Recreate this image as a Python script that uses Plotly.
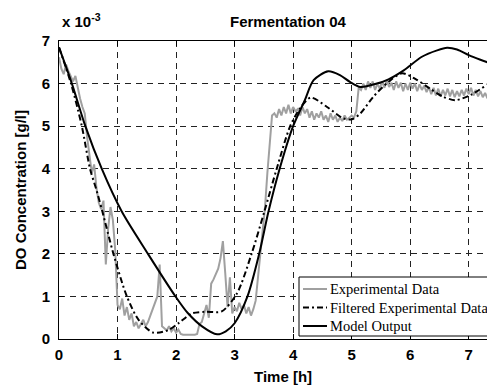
import numpy as np
import plotly.graph_objects as go

# Experimental data (sampled every 0.04 h)
t_exp_start, t_exp_step = 0.0, 0.04
exp_vals = [
    6.62, 6.35, 6.22, 6.45, 6.30, 6.15, 6.05, 6.18, 5.90, 5.65,
    5.45, 5.30, 4.75, 4.25, 3.90, 4.10, 3.55, 3.20, 3.05, 3.25,
    1.75, 2.60, 3.10, 2.80, 2.10, 0.80, 0.70, 0.95, 0.55, 0.75,
    0.45, 0.60, 0.30, 0.40, 0.25, 0.35, 0.45, 0.30, 0.40, 0.55,
    0.70, 0.85, 1.00, 1.75, 0.30, 0.25, 0.20, 0.30, 0.18, 0.25,
    0.15, 0.22, 0.12, 0.10, 0.10, 0.10, 0.10, 0.10, 0.10, 0.12,
    0.35, 0.40, 0.60, 0.80, 0.50, 1.30, 1.40, 1.55, 1.65, 1.90,
    2.30, 1.55, 0.75, 1.45, 0.60, 0.75, 0.65, 0.85, 0.70, 0.80,
    0.60, 0.75, 0.55, 0.70, 0.90, 1.45, 2.00, 2.50, 3.10, 3.90,
    4.60, 5.25, 5.30, 5.20, 5.40, 5.25, 5.45, 5.30, 5.50, 5.30,
    5.45, 5.35, 5.40, 5.25, 5.45, 5.30, 5.40, 5.20, 5.35, 5.15,
    5.30, 5.20, 5.35, 5.15, 5.25, 5.10, 5.30, 5.15, 5.25, 5.10,
    5.20, 5.12, 5.25, 5.15, 5.20, 5.25, 5.20, 5.35, 5.90, 5.85,
    6.00, 5.85, 6.05, 5.90, 6.05, 5.85, 6.00, 5.88, 6.05, 5.90,
    6.08, 5.92, 6.02, 5.85, 6.05, 5.90, 6.02, 5.82, 6.00, 5.85,
    6.02, 5.88, 6.00, 5.82, 5.98, 5.85, 5.95, 5.80, 5.92, 5.75,
    5.90, 5.72, 5.88, 5.70, 5.85, 5.72, 5.88, 5.70, 5.85, 5.68,
    5.82, 5.70, 5.85, 5.72, 5.88, 5.75, 5.90, 5.72, 5.85, 5.70,
    5.82, 5.68, 5.78, 5.65,
]
t_exp = [round(t_exp_start + i * t_exp_step, 2) for i in range(len(exp_vals))]

# Filtered experimental data
t_filt = [0.0, 0.205, 0.39, 0.53, 0.64, 0.74, 0.93, 1.16, 1.36, 1.61, 1.87, 2.05,
          2.27, 2.5, 2.78, 3.04, 3.29, 3.51, 3.72, 3.95, 4.12, 4.3, 4.58, 4.86,
          5.0, 5.15, 5.37, 5.63, 5.86, 6.1, 6.34, 6.55, 6.77, 7.03, 7.32]
v_filt = [6.85, 6.0, 5.0, 4.0, 3.5, 3.0, 2.0, 1.0, 0.45, 0.15, 0.21, 0.38,
          0.6, 0.64, 0.65, 1.07, 2.0, 3.0, 4.0, 5.0, 5.42, 5.67, 5.45, 5.18,
          5.16, 5.3, 5.69, 6.04, 6.24, 6.1, 5.88, 5.7, 5.61, 5.73, 5.98]

# Model output
t_mod = [0.0, 0.22, 0.45, 0.73, 1.07, 1.52, 1.99, 2.2, 2.45, 2.7, 2.85, 3.0,
         3.22, 3.42, 3.58, 3.77, 4.0, 4.2, 4.35, 4.6, 4.8, 4.97, 5.15, 5.43,
         5.63, 5.89, 6.2, 6.46, 6.63, 6.8, 7.0, 7.2, 7.32]
v_mod = [6.85, 6.0, 5.0, 4.0, 3.0, 2.0, 1.0, 0.61, 0.29, 0.11, 0.18, 0.37,
         1.0, 2.0, 3.0, 4.0, 5.0, 5.61, 6.08, 6.29, 6.2, 6.04, 5.92, 6.0,
         6.1, 6.31, 6.63, 6.78, 6.84, 6.8, 6.67, 6.56, 6.5]

series_names = ["Experimental Data", "Filtered Experimental Data", "Model Output"]
x_ticks = [0, 1, 2, 3, 4, 5, 6, 7]
y_ticks = [0, 1, 2, 3, 4, 5, 6, 7]

W, H = 487, 387
ML, MR, MT, MB = 59, 0, 41, 48
pw, ph = W - ML - MR, H - MT - MB

def px_x(p):
    return (p - ML) / pw

def px_y(p):
    return (H - MB - p) / ph

styles = [
    dict(color="#a0a0a0", width=2),
    dict(color="black", width=2, dash="6px,3px,2px,3px"),
    dict(color="black", width=2),
]

fig = go.Figure()
fig.add_trace(go.Scatter(x=t_exp, y=exp_vals, mode="lines", name=series_names[0],
                         line=styles[0]))
fig.add_trace(go.Scatter(x=t_filt, y=v_filt, mode="lines", name=series_names[1],
                         line=dict(**styles[1], shape="spline", smoothing=0.8)))
fig.add_trace(go.Scatter(x=t_mod, y=v_mod, mode="lines", name=series_names[2],
                         line=dict(**styles[2], shape="spline", smoothing=0.8)))

bold = dict(family="Liberation Sans, Arial", size=15, color="black", weight="bold")

fig.update_xaxes(range=[0, (W - ML - MR) / 58.53], tickvals=x_ticks,
                 ticktext=["<b>%d</b>" % v for v in x_ticks],
                 ticks="inside", ticklen=5, tickcolor="black", showline=True, linecolor="black",
                 linewidth=1, mirror="ticks", showgrid=True, gridcolor="#222",
                 griddash="6px,5px", gridwidth=1, zeroline=False, tickfont=bold,
                 ticklabelstandoff=2)
fig.update_yaxes(range=[0, 7], tickvals=y_ticks,
                 ticktext=["<b>%d</b>" % v for v in y_ticks],
                 ticks="inside", ticklen=5, tickcolor="black", showline=True, linecolor="black",
                 linewidth=1, mirror=False, showgrid=True, gridcolor="#222",
                 griddash="6px,5px", gridwidth=1, zeroline=False, tickfont=bold,
                 ticklabelstandoff=5)

annotations = [
    dict(text="<b>Fermentation 04</b>", x=px_x(288.5), y=px_y(21.5), xanchor="center", yanchor="middle"),
    dict(text="<b>x 10<sup>-3</sup></b>", x=px_x(60), y=px_y(20), xanchor="left", yanchor="middle"),
    dict(text="<b>Time [h]</b>", x=px_x(283), y=px_y(376), xanchor="center", yanchor="middle"),
    dict(text="<b>DO Concentration [g/l]</b>", x=px_x(20), y=px_y(190), xanchor="center",
         yanchor="middle", textangle=-90),
]
for a in annotations:
    a.update(xref="paper", yref="paper", showarrow=False, font=bold)

# Legend box (MATLAB style), drawn with shapes and text
shapes = [dict(type="rect", xref="paper", yref="paper", x0=px_x(299), x1=px_x(495),
               y0=px_y(336), y1=px_y(277), line=dict(color="black", width=1),
               fillcolor="white", layer="above")]
row_y = [289, 307.5, 326]
serif = dict(family="Liberation Serif, Times New Roman", size=14.5, color="black")
for name, st, ry in zip(series_names, styles, row_y):
    shapes.append(dict(type="line", xref="paper", yref="paper", x0=px_x(303), x1=px_x(327),
                       y0=px_y(ry), y1=px_y(ry), line=st, layer="above"))
    annotations.append(dict(text=name, x=px_x(328), y=px_y(ry), xref="paper", yref="paper",
                            xanchor="left", yanchor="middle", showarrow=False, font=serif))

fig.update_layout(
    width=W, height=H,
    margin=dict(l=ML, r=MR, t=MT, b=MB, pad=0, autoexpand=False),
    plot_bgcolor="white", paper_bgcolor="white",
    annotations=annotations, shapes=shapes,
    showlegend=False,
)

fig.write_html("out.html")
